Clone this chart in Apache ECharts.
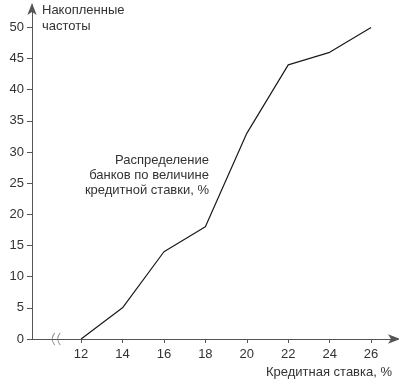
<!DOCTYPE html>
<html><head><meta charset="utf-8">
<script src="https://cdn.jsdelivr.net/npm/echarts@6/dist/echarts.min.js"></script>
<style>html,body{margin:0;padding:0;background:#fff}#c{width:399px;height:383px}</style>
</head><body><div id="c"></div>
<script>
const rates = [12, 14, 16, 18, 20, 22, 24, 26];
const cumulative = [0, 5, 14, 18, 33, 44, 46, 50];
const xTicks = [12, 14, 16, 18, 20, 22, 24, 26];
const yTicks = [0, 5, 10, 15, 20, 25, 30, 35, 40, 45, 50];
const breakAt = [[10.8, 0]];
const yName = 'Накопленные\nчастоты';
const xName = 'Кредитная ставка, %';
const note = 'Распределение\nбанков по величине\nкредитной ставки, %';

const font = 'Liberation Sans, Arial, sans-serif';
const chart = echarts.init(document.getElementById('c'));
chart.setOption({
  animation: false,
  grid: {left: 32, right: 1, top: 5, bottom: 44},
  xAxis: {
    type: 'value', min: 9.63, max: 27.3,
    axisLine: {lineStyle: {color: '#555', width: 1}, symbol: ['none', 'arrow'], symbolSize: [7, 12], symbolOffset: [0, 2]},
    axisTick: {show: true, customValues: xTicks, length: 4, inside: false, lineStyle: {color: '#555'}},
    axisLabel: {customValues: xTicks, color: '#333', fontSize: 13, fontFamily: font, margin: 9},
    splitLine: {show: false}
  },
  yAxis: {
    type: 'value', min: 0, max: 53.6,
    axisLine: {show: true, lineStyle: {color: '#555', width: 1}, symbol: ['none', 'arrow'], symbolSize: [7, 12], symbolOffset: [0, 2]},
    axisTick: {show: true, customValues: yTicks, length: 5, lineStyle: {color: '#555'}},
    axisLabel: {customValues: yTicks, color: '#333', fontSize: 13, fontFamily: font, margin: 8},
    splitLine: {show: false}
  },
  series: [
    {
      type: 'line', data: rates.map((r, i) => [r, cumulative[i]]),
      showSymbol: false, lineStyle: {color: '#1a1a1a', width: 1.2}, silent: true
    },
    {
      type: 'scatter', data: breakAt, silent: true,
      symbol: 'path://M3,0 C0,3 0,7 3,10 M8,0 C5,3 5,7 8,10',
      symbolSize: [8, 12],
      itemStyle: {color: 'rgba(0,0,0,0)', borderColor: '#666', borderWidth: 1}
    }
  ],
  graphic: [
    {type: 'text', left: 42, top: 2, style: {text: yName, fill: '#333', font: '13px ' + font, lineHeight: 16}},
    {type: 'text', right: 7, top: 366, style: {text: xName, fill: '#333', font: '13px ' + font}},
    {type: 'text', x: 209, y: 153, style: {text: note, fill: '#333', font: '13px ' + font, lineHeight: 15, align: 'right', verticalAlign: 'top'}}
  ]
});
</script></body></html>
